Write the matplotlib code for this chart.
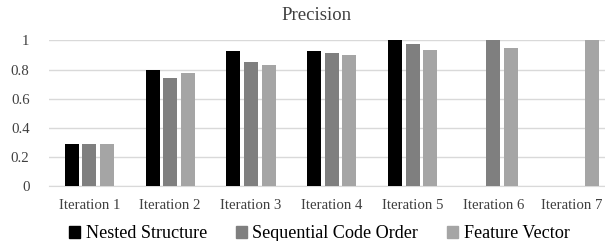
import matplotlib.pyplot as plt
import matplotlib.transforms as mtransforms
import numpy as np
from matplotlib.patches import Patch

plt.rcParams['font.family'] = ['Liberation Serif', 'DejaVu Serif']

categories = ['Iteration 1', 'Iteration 2', 'Iteration 3', 'Iteration 4',
              'Iteration 5', 'Iteration 6', 'Iteration 7']
series_names = ['Nested Structure', 'Sequential Code Order', 'Feature Vector']
nested = [0.286, 0.80, 0.927, 0.927, 1.0, np.nan, np.nan]
sequential = [0.286, 0.739, 0.851, 0.913, 0.979, 1.0, np.nan]
feature = [0.286, 0.78, 0.833, 0.901, 0.938, 0.947, 1.0]
colors = ['#000000', '#7f7f7f', '#a5a5a5']
yticks = [0, 0.2, 0.4, 0.6, 0.8, 1]
yticklabels = ['0', '0.2', '0.4', '0.6', '0.8', '1']

fig = plt.figure(figsize=(6.05, 2.41), dpi=100)
ax = fig.add_axes([49 / 605, 0.228, 565.6 / 605, 0.604])

x = np.arange(len(categories))
width = 0.173
pitch = 0.218
for i, (vals, c) in enumerate(zip([nested, sequential, feature], colors)):
    ax.bar(x + (i - 1) * pitch, vals, width, color=c, zorder=3)

ax.set_xlim(-0.5, len(categories) - 0.5)
ax.set_ylim(0, 1)
ax.set_yticks(yticks)
ax.set_yticklabels(yticklabels)
ax.set_xticks(x)
ax.set_xticklabels(categories)
ax.grid(axis='y', color='#d9d9d9', linewidth=1, zorder=0)
for s in ['top', 'right', 'left']:
    ax.spines[s].set_visible(False)
ax.spines['bottom'].set_color('#d9d9d9')
ax.tick_params(axis='both', length=0, labelsize=10.7, colors='#404040')
ax.tick_params(axis='x', pad=9)
ax.tick_params(axis='y', pad=14)
# nudge the last category label so it stays inside the cropped figure
last = ax.get_xticklabels()[-1]
last.set_transform(last.get_transform() +
                   mtransforms.ScaledTranslation(-3 / 100, 0, fig.dpi_scale_trans))

fig.text(317 / 605, 1 - 15 / 241, 'Precision', ha='center', va='center',
         fontsize=13.5, color='#404040')

handles = [Patch(color=c) for c in colors]
fig.legend(handles, series_names, loc='center', bbox_to_anchor=(0.528, 1 - 234 / 241),
           ncol=3, frameon=False, fontsize=13.1, handlelength=0.6, handleheight=0.6,
           handletextpad=0.3, columnspacing=1.6, labelcolor='#000000')

fig.savefig('out.png', dpi=100)
